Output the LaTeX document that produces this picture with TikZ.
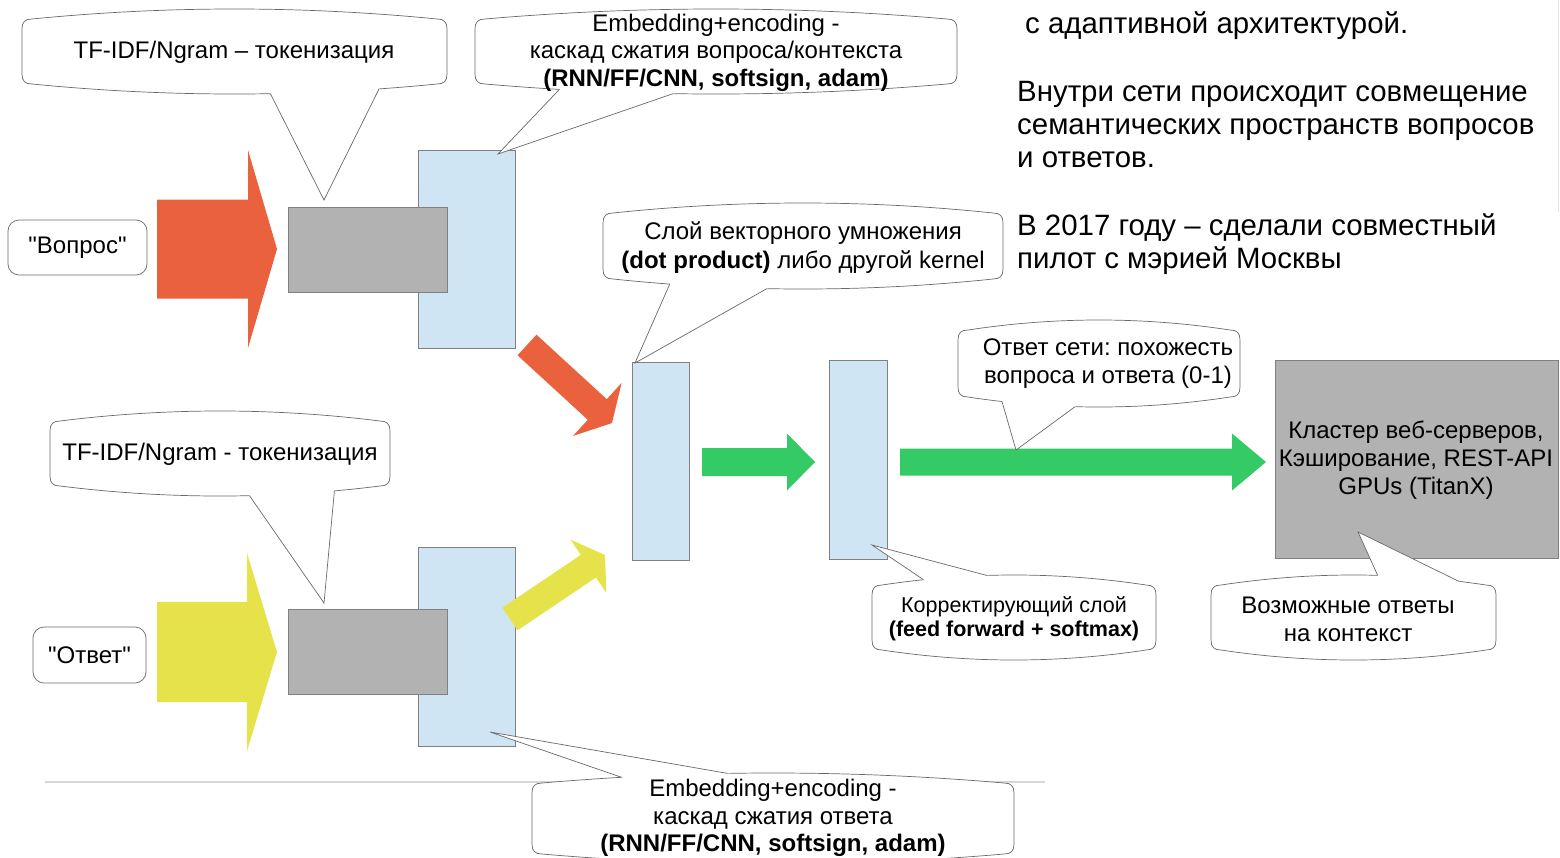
\documentclass[tikz,border=0pt]{standalone}
\usepackage{fontspec}
\setmainfont{Liberation Sans}[Ligatures=TeXOff]
\usetikzlibrary{calc,intersections}
\frenchspacing
\definecolor{qred}{RGB}{234,97,62}
\definecolor{qyellow}{RGB}{230,227,74}
\definecolor{qgreen}{RGB}{52,202,102}
\definecolor{qblue}{RGB}{207,229,243}
\definecolor{qgray}{RGB}{178,178,178}
\definecolor{qline}{RGB}{128,128,128}
\definecolor{cline}{RGB}{105,105,105}
\definecolor{sepline}{RGB}{215,215,215}
\definecolor{edgeline}{RGB}{232,226,226}

\tikzset{
  box/.style={draw=qline, line width=0.8pt, inner sep=0pt, outer sep=0pt, anchor=north west},
  bluebox/.style={box, fill=qblue},
  graybox/.style={box, fill=qgray},
  callline/.style={draw=cline, line width=0.7pt},
  ctext/.style={font=\fontsize{24}{27.5}\selectfont, align=center, inner sep=0pt},
  stext/.style={font=\fontsize{21.5}{24}\selectfont, align=center, inner sep=0pt},
  mtext/.style={font=\fontsize{29.4}{33}\selectfont, inner sep=0pt, anchor=base west},
  roundbox/.style={draw=cline, line width=0.7pt, rounded corners=11pt, fill=white, inner sep=0pt},
}

% block arrow: colour, tail centre, tip, shaft half width, head half width, head length
\newcommand\barrow[6]{%
  \coordinate (bT) at #2;
  \coordinate (bP) at #3;
  \coordinate (bH) at ($(bP)!#6!(bT)$);
  \fill[#1] ($(bT)!#4!90:(bP)$) -- ($(bH)!#4!90:(bP)$) -- ($(bH)!#5!90:(bP)$) -- (bP)
    -- ($(bH)!#5!-90:(bP)$) -- ($(bH)!#4!-90:(bP)$) -- ($(bT)!#4!-90:(bP)$) -- cycle;
}

% callout: x1, y1, x2, y2, base1, base2, tip
\newcommand\callout[7]{%
  \filldraw[fill=white, callline, name path=cpb]
    (#1, #2+20)
    .. controls (#1, #2+13) and (#1+3, #2+10) .. (#1+10, #2+10)
    .. controls ({#1+10+(#3-#1-20)/3}, {#2+10-40/3}) and ({#3-10-(#3-#1-20)/3}, {#2+10-40/3}) .. (#3-10, #2+10)
    .. controls (#3-3, #2+10) and (#3, #2+13) .. (#3, #2+20)
    -- (#3, #4-20)
    .. controls (#3, #4-13) and (#3-3, #4-10) .. (#3-10, #4-10)
    .. controls ({#3-10-(#3-#1-20)/3}, {#4-10+40/3}) and ({#1+10+(#3-#1-20)/3}, {#4-10+40/3}) .. (#1+10, #4-10)
    .. controls (#1+3, #4-10) and (#1, #4-13) .. (#1, #4-20)
    -- cycle;
  \coordinate (cE1) at ($#7!1.35!#5$);
  \coordinate (cE2) at ($#7!1.35!#6$);
  \path[name path=cp1] #7 -- (cE1);
  \path[name path=cp2] #7 -- (cE2);
  \path[name intersections={of=cpb and cp1, by=cI1}];
  \path[name intersections={of=cpb and cp2, by=cI2}];
  \fill[white] (cI1) -- #7 -- (cI2) -- ($(cI2)!3pt!(cE2)$) -- ($(cI1)!3pt!(cE1)$) -- cycle;
  \draw[callline] (cI1) -- #7 -- (cI2);
}

\begin{document}
\begin{tikzpicture}[x=1pt, y=-1pt]
\clip (0,0) rectangle (1560,857);
\useasboundingbox (0,0) rectangle (1560,857);
\fill[white] (0,0) rectangle (1560,857);

% slide edge and separator
\draw[edgeline, line width=1pt] (1558.5,0) -- (1558.5,212);
\draw[sepline, line width=1.5pt] (45,782) -- (1045,782);

% input boxes
\node[roundbox, minimum width=139pt, minimum height=55pt, font=\fontsize{24}{26}\selectfont] (vopros) at (77.5,247.5) {"Вопрос"};
\node[roundbox, minimum width=113pt, minimum height=56pt, font=\fontsize{24}{26}\selectfont] (otvet) at (89.5,655) {"Ответ"};

% big arrows
\barrow{qred}{(157,249)}{(277,249)}{49.5pt}{99pt}{29pt}
\barrow{qyellow}{(157,652)}{(277,652)}{50pt}{99pt}{30pt}

% encoder blocks
\node[bluebox, minimum width=97pt, minimum height=198pt] (qenc) at (418,150) {};
\node[graybox, minimum width=159pt, minimum height=85pt] (qtok) at (288,207) {};
\node[bluebox, minimum width=97pt, minimum height=199pt] (aenc) at (418,547) {};
\node[graybox, minimum width=159pt, minimum height=85pt] (atok) at (288,609) {};

% diagonal arrows
\barrow{qred}{(527,345)}{(612,423)}{14pt}{36pt}{20pt}
\barrow{qyellow}{(510,619)}{(605,555)}{13.6pt}{32pt}{20pt}

% middle layers
\node[bluebox, minimum width=57pt, minimum height=198pt] (dot) at (632,362) {};
\node[bluebox, minimum width=58pt, minimum height=199pt] (corr) at (829,360) {};

% green arrows
\barrow{qgreen}{(702,462)}{(815,462)}{14pt}{28.5pt}{28pt}
\barrow{qgreen}{(900,462)}{(1266,462)}{13.5pt}{28.5pt}{34pt}

% cluster
\node[graybox, minimum width=283pt, minimum height=198pt] (cluster) at (1275,360) {};
\node[ctext, font=\fontsize{24}{28}\selectfont] (clustertext) at (1416,460) {Кластер веб-серверов,\\Кэширование, REST-API\\GPUs (TitanX)};

% callouts
\callout{22}{9}{447}{94}{(270,93)}{(377,93)}{(324,200)}
\node[ctext] (ctok1) at (234,52) {TF-IDF/Ngram – токенизация};

\callout{475}{9}{957}{94}{(556,93)}{(675,93)}{(498,154)}
\node[ctext] (cenc1) at (716,52.5) {Embedding+encoding -\\каскад сжатия вопроса/контекста\\\textbf{(RNN/FF/CNN, softsign, adam)}};

\callout{603}{203}{1003}{289}{(668,288)}{(768,288)}{(635,363)}
\node[ctext, font=\fontsize{24}{29}\selectfont] (cdot) at (803,247.5) {Слой векторного умножения\\\textbf{(dot product)} либо другой kernel};

\callout{958}{320}{1240}{407}{(1003,405)}{(1076,406)}{(1016,450)}
\node[ctext, font=\fontsize{24}{28}\selectfont] (cans) at (1108,364) {Ответ сети: похожесть\\вопроса и ответа (0-1)};

\callout{872}{575}{1156}{660}{(918,576)}{(989,576)}{(872,545)}
\node[stext] (ccorr) at (1014,619) {Корректирующий слой\\\textbf{(feed forward + softmax)}};

\callout{1211}{575}{1496}{660}{(1378,576)}{(1448,576)}{(1358,532)}
\node[ctext, font=\fontsize{24}{28}\selectfont] (cposs) at (1348,619) {Возможные ответы\\на контекст};

\callout{50}{411}{390}{496}{(249,495)}{(334,495)}{(324,603)}
\node[ctext] (ctok2) at (220,454) {TF-IDF/Ngram - токенизация};

\callout{532}{773}{1014}{864}{(612,774)}{(731,774)}{(490,732)}
\node[ctext] (cenc2) at (773,818) {Embedding+encoding -\\каскад сжатия ответа\\\textbf{(RNN/FF/CNN, softsign, adam)}};

% right-hand text
\node[mtext] (t0) at (1025,33) {с адаптивной архитектурой.};
\node[mtext] (t1a) at (1017,101) {Внутри сети происходит совмещение};
\node[mtext] (t1b) at (1017,134) {семантических пространств вопросов};
\node[mtext] (t1c) at (1017,167) {и ответов.};
\node[mtext] (t2a) at (1017,235) {В 2017 году – сделали совместный};
\node[mtext] (t2b) at (1017,268) {пилот с мэрией Москвы};
\end{tikzpicture}
\end{document}
